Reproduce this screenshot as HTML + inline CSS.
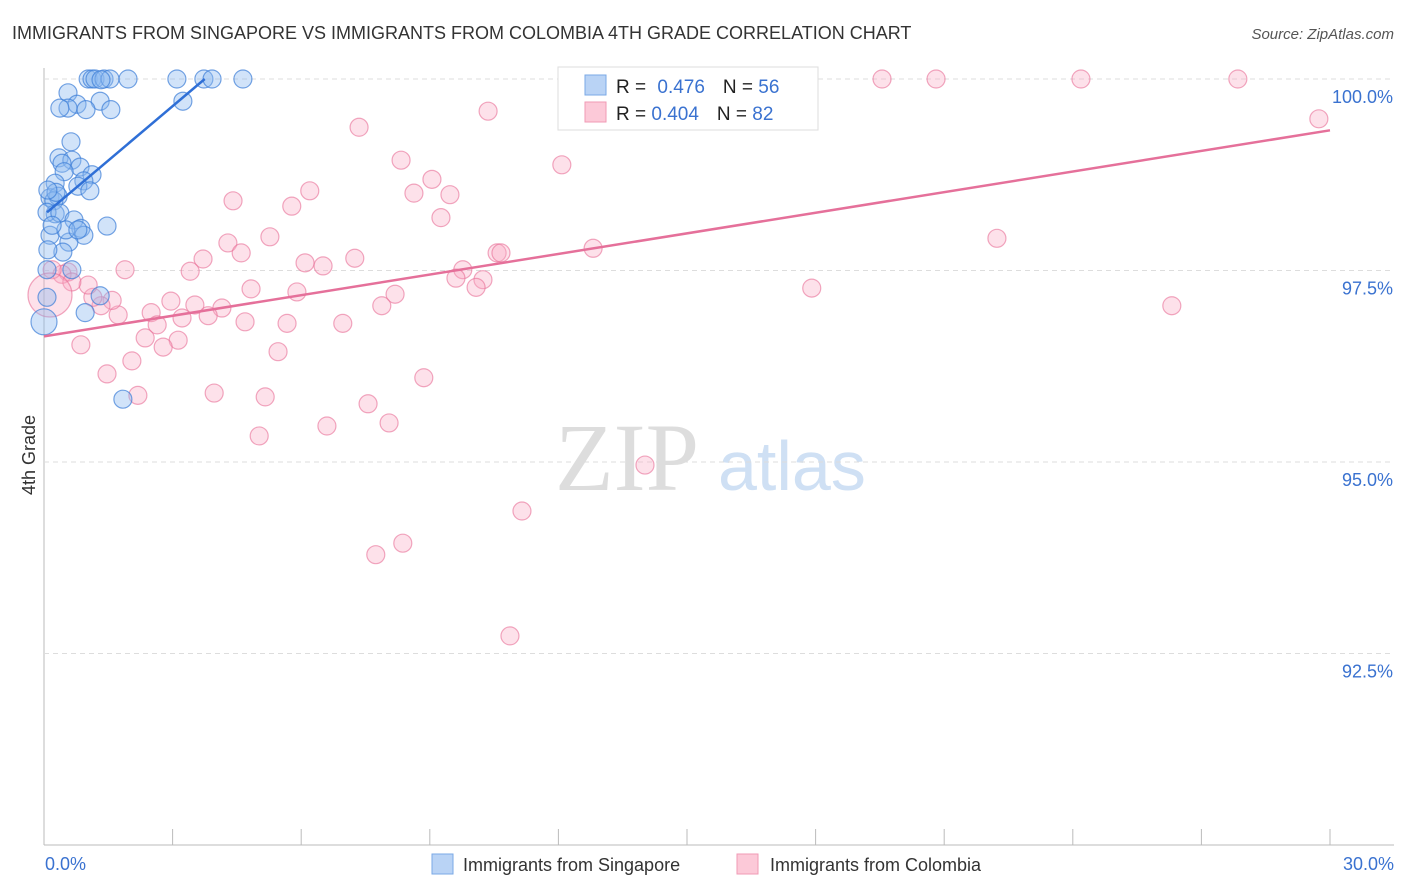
<!DOCTYPE html>
<html><head><meta charset="utf-8"><style>
body{margin:0;background:#fff;font-family:"Liberation Sans",sans-serif;}
svg{display:block}
</style></head><body>
<svg id="c" width="1406" height="892">
<text x="12" y="39" font-size="18" fill="#333">IMMIGRANTS FROM SINGAPORE VS IMMIGRANTS FROM COLOMBIA 4TH GRADE CORRELATION CHART</text>
<text x="1394" y="39" font-size="15" fill="#555" font-style="italic" text-anchor="end">Source: ZipAtlas.com</text>
<text x="35" y="455" font-size="18" fill="#333" text-anchor="middle" transform="rotate(-90 35 455)">4th Grade</text>
<text x="555" y="490" font-size="96" fill="#ddd" font-family="Liberation Serif">ZIP</text>
<text x="718" y="490" font-size="70" fill="#cfe0f4">atlas</text>
<g id="grid"></g><g id="pts"></g><g id="lines"></g>
<g>
<rect x="558" y="67" width="260" height="63" fill="#fff" stroke="#ddd"/>
<rect x="585" y="75" width="21" height="20" fill="#b9d3f5" stroke="#7aa8e6"/>
<rect x="585" y="102" width="21" height="20" fill="#fcc9d8" stroke="#f09ab5"/>
<text x="616" y="93" font-size="19" fill="#222">R = <tspan fill="#3a72d0" dx="6">0.476</tspan><tspan dx="18" fill="#222">N = </tspan><tspan fill="#3a72d0">56</tspan></text>
<text x="616" y="120" font-size="19" fill="#222">R = <tspan fill="#3a72d0">0.404</tspan><tspan dx="18" fill="#222">N = </tspan><tspan fill="#3a72d0">82</tspan></text>
</g>
<g>
<rect x="432" y="854" width="21" height="20" fill="#b9d3f5" stroke="#7aa8e6"/>
<text x="463" y="871" font-size="18" fill="#333">Immigrants from Singapore</text>
<rect x="737" y="854" width="21" height="20" fill="#fcc9d8" stroke="#f09ab5"/>
<text x="770" y="871" font-size="18" fill="#333">Immigrants from Colombia</text>
</g>
</svg>
<script>
const xTicksVal=[0,3,6,9,12,15,18,21,24,27,30];
const yTickVals=[100,97.5,95,92.5];
const yTickLabels=["100.0%","97.5%","95.0%","92.5%"];
const xEndLabels=["0.0%","30.0%"];
const sgX=[1.03,1.12,1.19,1.40,1.54,1.96,3.10,3.73,3.92,4.64,0.56,1.31,0.77,0.56,0.98,1.56,3.24,0.63,0.35,0.65,0.42,0.84,0.47,1.12,0.26,0.93,0.79,1.07,0.14,0.33,0.23,0.26,0.07,0.37,0.70,0.86,0.93,0.58,1.47,0.14,0.44,0.09,0.65,0.07,1.31,0.07,0.96,0,1.84,0.37,1.33,0.28,0.51,0.19,0.79,0.09];
const sgY=[100,100,100,100,100,100,100,100,100,100,99.82,99.71,99.67,99.62,99.60,99.60,99.71,99.18,98.97,98.94,98.90,98.85,98.79,98.75,98.64,98.67,98.60,98.54,98.45,98.47,98.41,98.24,98.26,98.25,98.16,98.05,97.96,97.87,98.08,97.96,97.74,97.77,97.51,97.51,97.17,97.15,96.95,96.83,95.82,99.62,99.99,98.52,98.03,98.09,98.03,98.55];
const sgBig=[47];
const coX=[13.20,13.81,15.30,19.55,20.81,24.19,27.85,29.74,10.36,7.35,12.08,8.33,9.05,8.63,9.47,6.20,5.78,4.41,9.26,5.27,4.29,4.60,3.71,6.09,6.51,7.25,10.57,10.66,12.81,22.23,1.89,3.41,9.77,9.61,10.24,10.08,8.19,7.88,5.90,4.83,2.96,3.52,4.15,3.83,3.22,2.50,2.64,1.73,1.59,1.33,1.14,1.03,0.56,0.42,0.65,0.19,0.14,4.69,5.67,6.97,2.36,3.13,2.78,0.86,5.46,2.05,1.47,2.19,3.97,5.16,8.86,7.56,8.05,6.60,5.02,14.02,11.15,8.37,7.74,10.87,17.91,26.31];
const coY=[100.01,100,99.99,100,100,100,100,99.48,99.58,99.37,98.88,98.94,98.69,98.51,98.49,98.54,98.34,98.41,98.19,97.94,97.86,97.73,97.65,97.60,97.56,97.66,97.73,97.73,97.79,97.92,97.51,97.49,97.51,97.40,97.38,97.28,97.19,97.04,97.22,97.26,97.10,97.05,97.01,96.91,96.88,96.95,96.79,96.92,97.11,97.04,97.15,97.31,97.48,97.45,97.35,97.51,97.18,96.83,96.81,96.81,96.62,96.59,96.50,96.53,96.44,96.32,96.15,95.87,95.90,95.85,96.10,95.76,95.51,95.47,95.34,94.96,94.36,93.94,93.79,92.73,97.27,97.04];
const coBig=[56];
const sgTrend=[0.07,98.26,3.75,100];
const coTrend=[0,96.64,30,99.33];
const X=v=>44+v*(1286/30);
const Y=v=>79+(100-v)*76.6;
const NS="http://www.w3.org/2000/svg";
function mk(t,a,p){const e=document.createElementNS(NS,t);for(const k in a)e.setAttribute(k,a[k]);p.appendChild(e);return e;}
const g=document.getElementById('grid'),pts=document.getElementById('pts'),ln=document.getElementById('lines');
mk('line',{x1:44,y1:68,x2:44,y2:845,stroke:'#bbb'},g);
mk('line',{x1:44,y1:845,x2:1394,y2:845,stroke:'#bbb'},g);
yTickVals.forEach((v,i)=>{
 const l=mk('line',{x1:44,y1:Y(v),x2:1394,y2:Y(v),stroke:'#ddd','stroke-dasharray':'5,4'},g);
 
 
 const t=mk('text',{x:1393,y:Y(v)+24,'font-size':18,fill:'#3a72d0','text-anchor':'end'},g);
 t.textContent=yTickLabels[i];
 
 
});
xTicksVal.forEach(v=>{
 const l=mk('line',{x1:X(v),y1:829,x2:X(v),y2:845,stroke:'#bbb'},g);
 
 
});
[[0,'start',45],[1,'end',1394]].forEach(([i,a,x])=>{
 const t=mk('text',{x:x,y:870,'font-size':18,fill:'#3a72d0','text-anchor':a},g);
 t.textContent=xEndLabels[i];
 
 
});
coX.forEach((v,i)=>{
 const c=mk('circle',{cx:X(v),cy:Y(coY[i]),r:coBig.includes(i)?22:9,fill:'rgba(248,170,195,0.35)',stroke:'rgba(232,110,150,0.6)','stroke-width':1.2},pts);
 
 
});
sgX.forEach((v,i)=>{
 const c=mk('circle',{cx:X(v),cy:Y(sgY[i]),r:sgBig.includes(i)?13:9,fill:'rgba(140,185,240,0.4)',stroke:'rgba(60,125,215,0.7)','stroke-width':1.2},pts);
 
 
});
const l1=mk('line',{x1:X(sgTrend[0]),y1:Y(sgTrend[1]),x2:X(sgTrend[2]),y2:Y(sgTrend[3]),stroke:'#2f6fd6','stroke-width':2.5},ln);


const l2=mk('line',{x1:X(coTrend[0]),y1:Y(coTrend[1]),x2:X(coTrend[2]),y2:Y(coTrend[3]),stroke:'#e5709a','stroke-width':2.5},ln);


</script>
</body></html>
